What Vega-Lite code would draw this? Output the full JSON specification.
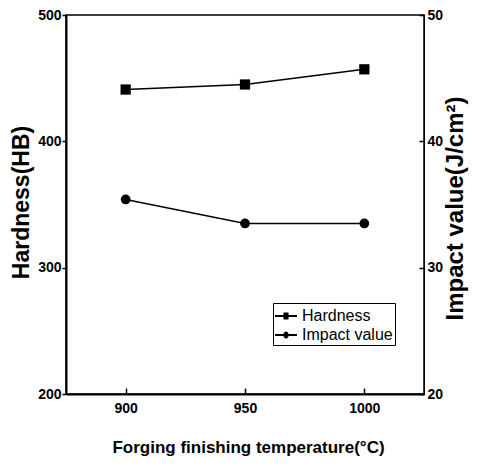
{
  "$schema": "https://vega.github.io/schema/vega-lite/v6.json",
  "width": 358,
  "height": 379,
  "autosize": {"type": "none"},
  "padding": {"left": 66, "top": 15, "right": 55, "bottom": 75},
  "background": "white",
  "config": {
    "view": {"stroke": "black", "strokeWidth": 1.5},
    "font": "Liberation Sans",
    "axis": {"grid": false, "labelColor": "black", "titleColor": "black", "tickColor": "black", "domainColor": "black", "labelFlush": false, "labelFont": "Liberation Sans", "labelFontWeight": "bold", "labelFontSize": 14, "tickWidth": 1.5}
  },
  "data": {
    "values": [
      {"temp": 900, "series": "Hardness", "value": 441},
      {"temp": 950, "series": "Hardness", "value": 445},
      {"temp": 1000, "series": "Hardness", "value": 457},
      {"temp": 900, "series": "Impact value", "value": 35.4},
      {"temp": 950, "series": "Impact value", "value": 33.5},
      {"temp": 1000, "series": "Impact value", "value": 33.5}
    ]
  },
  "encoding": {
    "x": {
      "field": "temp",
      "type": "quantitative",
      "scale": {"domain": [875, 1025], "nice": false, "zero": false},
      "axis": {
        "values": [900, 950, 1000],
        "format": "d",
        "orient": "bottom",
        "tickSize": -6,
        "labelPadding": 13,
        "domainWidth": 2,
        "title": "Forging finishing temperature(°C)",
        "titleFont": "Liberation Sans",
        "titleFontSize": 17,
        "titleFontWeight": "bold",
        "titleX": 182,
        "titleY": 53,
        "titleAlign": "center",
        "titleBaseline": "middle"
      }
    }
  },
  "layer": [
    {
      "transform": [{"filter": "datum.series === 'Hardness'"}],
      "encoding": {
        "y": {
          "field": "value",
          "type": "quantitative",
          "scale": {"domain": [200, 500], "nice": false, "zero": false},
          "axis": {
            "orient": "left",
            "values": [200, 300, 400, 500],
            "tickSize": 4,
            "labelPadding": 1,
            "domainWidth": 2,
            "title": "Hardness(HB)",
            "titleFont": "Liberation Sans",
            "titleFontSize": 23,
            "titleFontWeight": "bold",
            "titleAngle": -90,
            "titleX": -45,
            "titleY": 187,
            "titleAlign": "center",
            "titleBaseline": "middle"
          }
        }
      },
      "layer": [
        {"mark": {"type": "line", "color": "black", "strokeWidth": 1.5}},
        {"mark": {"type": "point", "shape": "square", "filled": true, "color": "black", "size": 105, "opacity": 1}},
        {
          "mark": {"type": "point", "filled": true, "color": "black", "opacity": 0},
          "encoding": {
            "shape": {
              "field": "series",
              "type": "nominal",
              "scale": {
                "domain": ["Hardness", "Impact value"],
                "range": [
                  "M-1,-0.08H1V0.08H-1Z M-0.23,-0.32H0.23V0.32H-0.23Z",
                  "M-1,-0.08H1V0.08H-1Z M-0.25,0A0.25,0.32 0 1,1 0.25,0A0.25,0.32 0 1,1 -0.25,0Z"
                ]
              },
              "legend": {
                "orient": "none",
                "legendX": 207,
                "legendY": 288,
                "title": null,
                "strokeColor": "black",
                "fillColor": "white",
                "padding": 2,
                "labelFont": "Liberation Sans",
                "labelFontSize": 16,
                "labelColor": "black",
                "symbolSize": 484,
                "symbolOpacity": 1,
                "symbolFillColor": "black",
                "symbolStrokeWidth": 0,
                "rowPadding": 0,
                "labelOffset": 5
              }
            }
          }
        }
      ]
    },
    {
      "transform": [{"filter": "datum.series === 'Impact value'"}],
      "encoding": {
        "y": {
          "field": "value",
          "type": "quantitative",
          "scale": {"domain": [20, 50], "nice": false, "zero": false},
          "axis": {
            "orient": "right",
            "values": [20, 30, 40, 50],
            "tickSize": -5,
            "labelPadding": 8,
            "domainWidth": 1,
            "title": "Impact value(J/cm²)",
            "titleFont": "Liberation Sans",
            "titleFontSize": 24,
            "titleFontWeight": "bold",
            "titleAngle": -90,
            "titleX": 31,
            "titleY": 193,
            "titleAlign": "center",
            "titleBaseline": "middle"
          }
        }
      },
      "layer": [
        {"mark": {"type": "line", "color": "black", "strokeWidth": 1.5}},
        {"mark": {"type": "point", "shape": "circle", "filled": true, "color": "black", "size": 95, "opacity": 1}}
      ]
    }
  ],
  "resolve": {"scale": {"y": "independent"}}
}
